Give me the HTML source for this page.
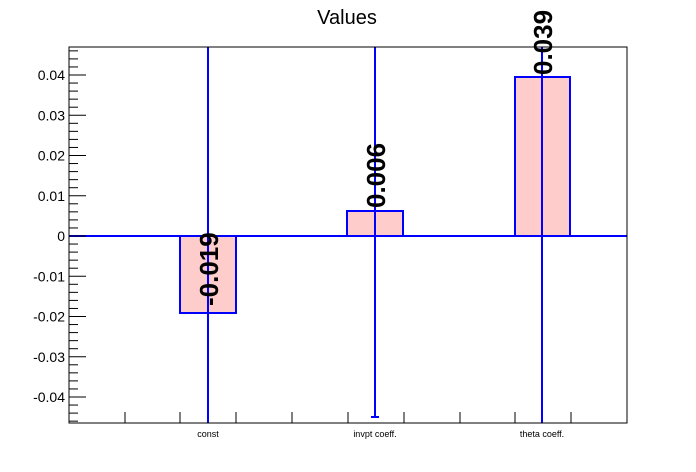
<!DOCTYPE html>
<html><head><meta charset="utf-8"><style>
html,body{margin:0;padding:0;background:#fff;}
svg{display:block;font-family:"Liberation Sans",Arial,sans-serif;}
</style></head><body>
<svg width="696" height="472" viewBox="0 0 696 472" xmlns="http://www.w3.org/2000/svg">
<rect width="696" height="472" fill="#fff"/>
<text x="347" y="24" font-size="20" text-anchor="middle">Values</text>
<g fill="#ffcccc" stroke="#0000ff" stroke-width="2">
<rect x="180" y="236" width="56" height="77"/>
<rect x="347" y="211" width="56" height="25"/>
<rect x="515" y="77" width="55" height="159"/>
</g>
<line x1="69" y1="236" x2="627" y2="236" stroke="#0000ff" stroke-width="2"/>
<g stroke="#0000ff" stroke-width="2">
<line x1="208" y1="47" x2="208" y2="423"/>
<line x1="375" y1="47" x2="375" y2="417"/>
<line x1="371" y1="417" x2="379" y2="417"/>
<line x1="542" y1="47" x2="542" y2="423"/>
<line x1="180" y1="313" x2="236" y2="313"/>
<line x1="347" y1="211" x2="403" y2="211"/>
<line x1="515" y1="77" x2="570" y2="77"/>
</g>
<rect x="69" y="47" width="558" height="376" fill="none" stroke="#000" stroke-width="1"/>
<g stroke="#000" stroke-width="1" id="yt"></g>
<g font-size="14" text-anchor="end" id="yl"></g>
<g stroke="#000" stroke-width="1">
<line x1="125" y1="412" x2="125" y2="423"/><line x1="180" y1="412" x2="180" y2="423"/>
<line x1="236" y1="412" x2="236" y2="423"/><line x1="292" y1="412" x2="292" y2="423"/>
<line x1="348" y1="412" x2="348" y2="423"/><line x1="404" y1="412" x2="404" y2="423"/>
<line x1="460" y1="412" x2="460" y2="423"/><line x1="515" y1="412" x2="515" y2="423"/>
<line x1="571" y1="412" x2="571" y2="423"/>
</g>
<g font-size="9" text-anchor="middle">
<text x="208" y="437">const</text>
<text x="375" y="437">invpt coeff.</text>
<text x="542" y="437">theta coeff.</text>
</g>
<g font-size="26" font-weight="bold">
<text transform="translate(218,306) rotate(-90)">-0.019</text>
<text transform="translate(385,208) rotate(-90)">0.006</text>
<text transform="translate(552,75) rotate(-90)">0.039</text>
</g>
<script>
var yt=document.getElementById('yt'),yl=document.getElementById('yl'),ns='http://www.w3.org/2000/svg';
for(var i=-23;i<=23;i++){var y=236-i*0.002*4025;if(y<47||y>423)continue;
var l=document.createElementNS(ns,'line');var maj=(i%5===0);
l.setAttribute('x1',69);l.setAttribute('x2',69+(maj?17:9));l.setAttribute('y1',y);l.setAttribute('y2',y);yt.appendChild(l);
if(maj){var t=document.createElementNS(ns,'text');t.setAttribute('x',65);t.setAttribute('y',y+5);
var v=i/500;t.textContent=(v===0?'0':v.toFixed(2));yl.appendChild(t);}}
</script>
</svg>
</body></html>
